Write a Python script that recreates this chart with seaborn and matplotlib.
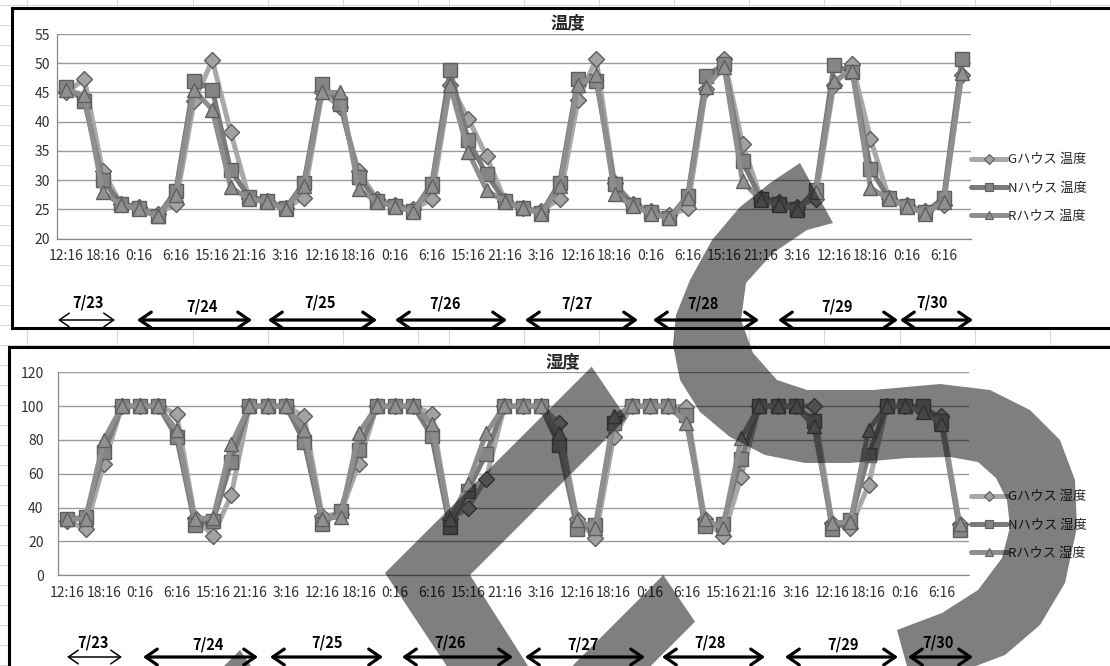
import numpy as np
import pandas as pd
import matplotlib
matplotlib.use("Agg")
import matplotlib.pyplot as plt
import seaborn as sns
from matplotlib.patches import Polygon, Rectangle, FancyArrowPatch
from matplotlib.lines import Line2D

# ---------------- data ----------------
categories = ["12:16", "15:16", "18:16", "21:16",
              "0:16", "3:16", "6:16", "12:16", "15:16", "18:16", "21:16",
              "0:16", "3:16", "6:16", "12:16", "15:16", "18:16", "21:16",
              "0:16", "3:16", "6:16", "12:16", "15:16", "18:16", "21:16",
              "0:16", "3:16", "6:16", "12:16", "15:16", "18:16", "21:16",
              "0:16", "3:16", "6:16", "12:16", "15:16", "18:16", "21:16",
              "0:16", "3:16", "6:16", "12:16", "15:16", "18:16", "21:16",
              "0:16", "3:16", "6:16", "12:16"]
dates = ["7/23", "7/24", "7/25", "7/26", "7/27", "7/28", "7/29", "7/30"]

temp_names = ["Gハウス 温度", "Nハウス 温度", "Rハウス 温度"]
hum_names = ["Gハウス 湿度", "Nハウス 湿度", "Rハウス 湿度"]

temp_G = [45, 47.3, 31.5, 26, 25.5, 24.2, 26, 43.5, 50.5, 38.2, 27, 26.5, 25.3, 27, 45, 42.5, 31.5,
          26.8, 25.8, 25, 26.8, 46.3, 40.5, 34.1, 26.5, 25.2, 24.8, 26.8, 43.7, 50.7, 29.5, 26, 24.7,
          24, 25.2, 45.6, 50.7, 36.2, 27, 26.3, 25.5, 26.8, 46.3, 49.8, 37.1, 27, 25.8, 24.7, 25.8, 48]
temp_N = [46, 43.5, 30, 26, 25.3, 23.8, 28.2, 47, 45.5, 31.7, 27.2, 26.5, 25.2, 29.5, 46.5, 43, 30.5,
          26.5, 25.6, 24.8, 29.4, 48.8, 36.8, 31, 26.5, 25.2, 24.4, 29.6, 47.3, 47, 29.3, 25.8, 24.5,
          23.6, 27.3, 47.8, 49.8, 33.2, 26.8, 26, 25, 28.4, 49.7, 48.5, 32, 26.9, 25.6, 24.5, 27, 50.8]
temp_R = [45.5, 44.5, 28, 25.8, 25, 23.8, 27.5, 45.5, 42, 28.8, 26.8, 26.3, 25, 29, 45, 45, 28.5,
          26.3, 25.5, 24.6, 29, 46.2, 34.8, 28.3, 26.3, 25.2, 24.3, 29, 46.3, 48, 27.6, 25.6, 24.3,
          23.5, 27, 46, 49.3, 29.8, 26.6, 25.8, 24.9, 28, 47, 48.7, 28.7, 26.8, 25.5, 24.3, 26.3, 48.4]

hum_G = [32, 27.5, 66, 100, 100, 100, 95.5, 34, 23.5, 47.5, 100, 100, 100, 94, 35, 36.5, 66,
         100, 100, 100, 95.5, 33, 40, 57, 100, 100, 100, 90, 33, 22, 82, 100, 100,
         100, 99.5, 33.5, 23, 58, 100, 100, 100, 100, 31, 28, 53.5, 100, 100, 98, 94, 30.5]
hum_N = [33, 34.5, 73, 100, 100, 100, 81.5, 30, 32, 67, 100, 100, 100, 79, 30.5, 38, 74,
         100, 100, 100, 82.5, 28.5, 50, 72, 100, 100, 100, 77, 27.5, 29.5, 90, 100, 100,
         100, 95, 29, 30.5, 69, 100, 100, 100, 91, 27.5, 32.5, 71, 100, 100, 100, 91, 27]
hum_R = [33, 33.5, 80, 100, 100, 100, 86, 33.5, 34, 77.5, 100, 100, 100, 86, 33.5, 34.5, 84,
         100, 100, 100, 89.5, 33, 54, 84, 100, 100, 100, 84, 32.5, 28, 94, 100, 100,
         100, 90, 33, 28, 81, 100, 100, 100, 88, 31, 31.5, 86, 100, 100, 96.5, 89.5, 30.5]

# ---------------- style ----------------
W, H = 1110, 666
sns.set_style("white")
plt.rcParams["font.family"] = ["Noto Sans CJK JP", "DejaVu Sans"]

def fx(x):
    return x / W

def fy(y):
    return 1 - y / H

line_cols = ["#a8a8a8", "#7a7a7a", "#8e8e8e"]
face_cols = ["#a2a2a2", "#858585", "#909090"]
edge_col = "#5e5e5e"
marks = ["D", "s", "^"]
msizes = [8, 10, 9.5]

fig = plt.figure(figsize=(W / 100, H / 100), dpi=100)

# spreadsheet background
for x in [27, 117, 193, 268, 343, 418, 449, 524, 599, 674, 749, 824, 900, 975, 1050]:
    fig.add_artist(Line2D([fx(x), fx(x)], [0, 1], transform=fig.transFigure,
                          color="#d9d9d9", lw=0.8, zorder=-20))
for y in range(5, 670, 20):
    fig.add_artist(Line2D([0, 1], [fy(y), fy(y)], transform=fig.transFigure,
                          color="#d9d9d9", lw=0.8, zorder=-20))

# chart frames
fig.add_artist(Rectangle((fx(12), fy(328)), fx(1130) - fx(12), (328 - 8) / H,
                         transform=fig.transFigure, facecolor="white",
                         edgecolor="black", lw=2.2, zorder=-5))
fig.add_artist(Rectangle((fx(9), fy(680)), fx(1130) - fx(9), (680 - 347) / H,
                         transform=fig.transFigure, facecolor="white",
                         edgecolor="black", lw=2.2, zorder=-5))


def draw_panel(ax, series, names, ylim, yticks, ypad):
    df = pd.DataFrame({
        "idx": np.tile(np.arange(len(categories)), 3),
        "value": np.concatenate([np.asarray(s, float) for s in series]),
        "series": np.repeat(names, len(categories)),
    })
    sns.lineplot(data=df, x="idx", y="value", hue="series", style="series",
                 hue_order=names, style_order=names,
                 palette=dict(zip(names, line_cols)),
                 markers=dict(zip(names, marks)), dashes=False,
                 estimator=None, sort=False, lw=3.6, legend=False, ax=ax)
    for ln, fc, ms in zip(ax.lines, face_cols, msizes):
        ln.set_markerfacecolor(fc)
        ln.set_markeredgecolor(edge_col)
        ln.set_markeredgewidth(1.0)
        ln.set_markersize(ms)
        ln.set_solid_capstyle("round")
        ln.set_solid_joinstyle("round")
    ax.set_xlim(-0.5, len(categories) - 0.5)
    ax.set_ylim(*ylim)
    ax.set_xlabel("")
    ax.set_ylabel("")
    # boundaries tick marks
    ax.set_xticks(np.arange(-0.5, len(categories), 1.0))
    ax.set_xticklabels([])
    ax.set_xticks(np.arange(0, len(categories), 2), minor=True)
    ax.set_xticklabels(categories[::2], minor=True)
    ax.tick_params(axis="x", which="major", direction="out", length=3.6,
                   color="#8a8a8a", width=0.8)
    ax.tick_params(axis="x", which="minor", length=0, pad=7.5,
                   labelsize=10, labelcolor="#303030")
    ax.set_yticks(yticks)
    ax.tick_params(axis="y", direction="out", length=3.6, color="#8a8a8a",
                   width=0.8, pad=ypad, labelsize=10, labelcolor="#303030")
    ax.grid(axis="y", color="#9a9a9a", lw=1.0)
    ax.grid(axis="x", visible=False)
    ax.set_axisbelow(True)
    for s in ["top", "right"]:
        ax.spines[s].set_visible(False)
    for s in ["left", "bottom"]:
        ax.spines[s].set_color("#8a8a8a")
        ax.spines[s].set_linewidth(0.9)
    ax.patch.set_alpha(0)


def add_legend(ax, names, ycenter):
    handles = [Line2D([0], [0], color=c, lw=3.6, marker=m, markersize=ms * 0.62,
                      markerfacecolor=fc, markeredgecolor=edge_col, markeredgewidth=0.8)
               for c, m, ms, fc in zip(line_cols, marks, msizes, face_cols)]
    ax.legend(handles, names, loc="center left",
              bbox_to_anchor=(fx(971), fy(ycenter)), bbox_transform=fig.transFigure,
              frameon=False, fontsize=9.5, handlelength=2.7, handletextpad=0.1,
              labelspacing=1.15, borderpad=0, borderaxespad=0, numpoints=1)


ax1 = fig.add_axes([fx(57), fy(238.7), (971 - 57) / W, (238.7 - 34) / H])
draw_panel(ax1, [temp_G, temp_N, temp_R], temp_names, (20, 55), np.arange(20, 56, 5), 1.5)
add_legend(ax1, temp_names, 188)

ax2 = fig.add_axes([fx(58.3), fy(575.3), (968.7 - 58.3) / W, (575.3 - 372.3) / H])
draw_panel(ax2, [hum_G, hum_N, hum_R], hum_names, (0, 120), np.arange(0, 121, 20), 7)
add_legend(ax2, hum_names, 525)

# titles
fig.text(fx(568), fy(23), "温度", ha="center", va="center", fontsize=12.5, fontweight="bold")
fig.text(fx(563), fy(362), "湿度", ha="center", va="center", fontsize=12.5, fontweight="bold")

# date spans
top_arrows = [(58, 115), (137, 252), (268, 377), (395, 507), (525, 638), (653, 759), (778, 898), (900, 973)]
top_lab_x = [88, 202, 320, 445, 577, 703, 837, 932]
top_lab_y = [302, 307, 303, 304, 304, 304, 307, 302]
bot_arrows = [(67, 122), (143, 258), (270, 383), (402, 513), (525, 645), (662, 765), (785, 898), (908, 973)]
bot_lab_x = [93, 208, 327, 450, 583, 710, 843, 938]
bot_lab_y = [642, 645, 643, 643, 645, 643, 645, 642]


def add_dates(arrows, lab_x, lab_y, ay):
    for k, (d, (x0, x1), lx, ly) in enumerate(zip(dates, arrows, lab_x, lab_y)):
        thin = (k == 0)
        arr = FancyArrowPatch((fx(x0), fy(ay)), (fx(x1), fy(ay)), transform=fig.transFigure,
                              arrowstyle="<->,head_length=0.55,head_width=0.38",
                              mutation_scale=13 if thin else 15,
                              lw=1.1 if thin else 2.3, color="black",
                              shrinkA=0, shrinkB=0, zorder=5)
        fig.add_artist(arr)
        fig.text(fx(lx), fy(ly), d, ha="center", va="center", fontsize=10.5,
                 fontweight="bold", color="black")


add_dates(top_arrows, top_lab_x, top_lab_y, 320)
add_dates(bot_arrows, bot_lab_x, bot_lab_y, 657)

# overlay stamp shapes
overlay = dict(transform=fig.transFigure, facecolor="black", edgecolor="none",
               alpha=0.5, zorder=20)


def poly(pts):
    return Polygon([(fx(x), fy(y)) for x, y in pts], closed=True, **overlay)


fig.add_artist(poly([(591.7, 366.7), (626.7, 418.3), (470, 575), (537, 680),
                     (456, 680), (385, 573)]))
fig.add_artist(poly([(663.3, 575), (695, 621.7), (636.7, 680), (558.3, 680)]))
fig.add_artist(poly([(240, 650), (272, 697), (230, 739), (197, 693)]))

s_outer = [(800, 163), (770, 183), (740, 207), (712, 240), (690, 280), (676, 315),
           (673, 345), (680, 380), (700, 412), (730, 437), (765, 455), (805, 463),
           (850, 463), (907, 458), (950, 457), (978, 462), (996, 478), (1007, 500),
           (1010, 527), (1002, 558), (978, 590), (942, 613), (897, 630)]
s_inner = [(908, 670), (960, 672), (1005, 655), (1040, 625), (1065, 583), (1077, 527),
           (1075, 480), (1060, 440), (1030, 410), (990, 390), (940, 384), (873, 390),
           (807, 390), (777, 380), (753, 353), (741, 320), (746, 283), (773, 253),
           (807, 230), (833, 223)]
fig.add_artist(poly(s_outer + s_inner))

fig.savefig("out.png", dpi=100)
